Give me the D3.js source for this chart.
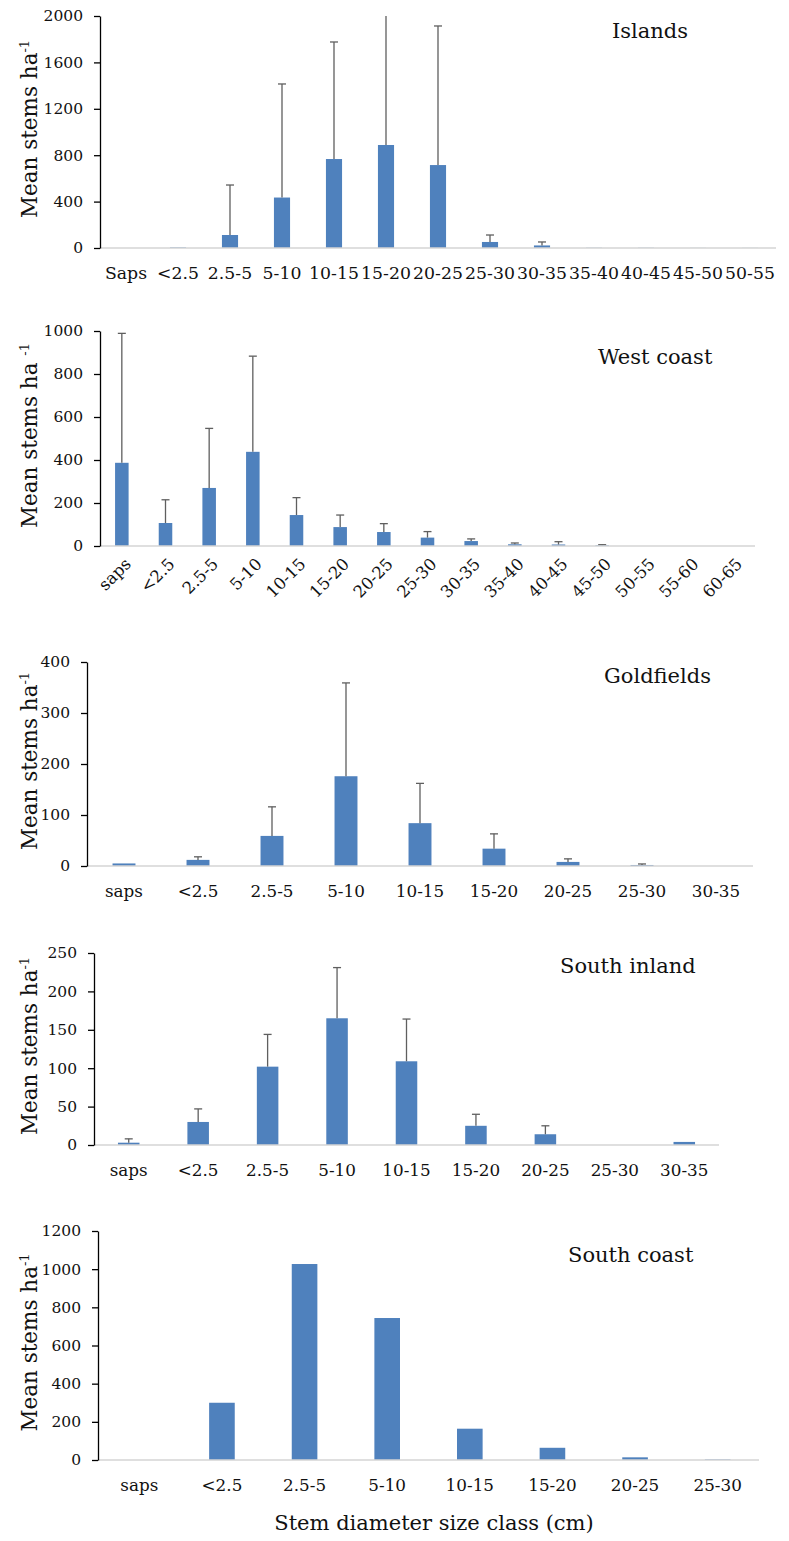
<!DOCTYPE html>
<html>
<head>
<meta charset="utf-8">
<script src="https://cdn.jsdelivr.net/npm/d3@7"></script>
<style>
  body { margin: 0; background: #fff; }
  svg { display: block; }
</style>
</head>
<body>
<script>
// data (mean stems per ha, upper end of the error bar)
const islandsCats = ["Saps", "<2.5", "2.5-5", "5-10", "10-15", "15-20", "20-25", "25-30", "30-35", "35-40", "40-45", "45-50", "50-55"]
const islandsMean = [0, 5, 112, 435, 767, 888, 715, 52, 22, 2, 2, 1, 1]
const islandsErr = [0, 0, 543, 1414, 1776, 2150, 1914, 112, 52, 0, 0, 0, 0]

const westCats = ["saps", "<2.5", "2.5-5", "5-10", "10-15", "15-20", "20-25", "25-30", "30-35", "35-40", "40-45", "45-50", "50-55", "55-60", "60-65"]
const westMean = [387, 107, 270, 438, 144, 88, 65, 39, 23, 8, 7, 3, 0, 0, 0]
const westErr = [989, 215, 547, 883, 225, 144, 104, 67, 33, 14, 20, 6, 0, 0, 0]

const goldCats = ["saps", "<2.5", "2.5-5", "5-10", "10-15", "15-20", "20-25", "25-30", "30-35"]
const goldMean = [5, 12, 59, 176, 84, 34, 8, 2, 0]
const goldErr = [0, 18, 116, 359, 162, 63, 14, 4, 0]

const inlandCats = ["saps", "<2.5", "2.5-5", "5-10", "10-15", "15-20", "20-25", "25-30", "30-35"]
const inlandMean = [3, 30, 102, 165, 109, 25, 14, 0, 4]
const inlandErr = [8, 47, 144, 231, 164, 40, 25, 0, 0]

const coastCats = ["saps", "<2.5", "2.5-5", "5-10", "10-15", "15-20", "20-25", "25-30"]
const coastMean = [0, 300, 1027, 744, 164, 64, 14, 3]
const coastErr = [0, 0, 0, 0, 0, 0, 0, 0]

const yTicksIslands = [0, 400, 800, 1200, 1600, 2000]
const yTicksWest = [0, 200, 400, 600, 800, 1000]
const yTicksGold = [0, 100, 200, 300, 400]
const yTicksInland = [0, 50, 100, 150, 200, 250]
const yTicksCoast = [0, 200, 400, 600, 800, 1000, 1200]

const font = "DejaVu Serif"
const barColor = "#4f81bd"

let svg = d3.select("body")
    .append("svg")
    .attr("width", 789)
    .attr("height", 1541)

// one entry per panel : data + where it sits on the page
let panels = [
    { title: "Islands", cats: islandsCats, mean: islandsMean, err: islandsErr, ticks: yTicksIslands,
      left: 100, right: 776, top: 16, zero: 248, titleX: 612, titleY: 38, xFont: 17.3, rotate: false, gap: "" },
    { title: "West coast", cats: westCats, mean: westMean, err: westErr, ticks: yTicksWest,
      left: 100, right: 755, top: 331, zero: 546, titleX: 598, titleY: 364, xFont: 16.5, rotate: true, gap: " " },
    { title: "Goldfields", cats: goldCats, mean: goldMean, err: goldErr, ticks: yTicksGold,
      left: 87, right: 753, top: 662, zero: 866, titleX: 604, titleY: 683, xFont: 16.8, rotate: false, gap: "" },
    { title: "South inland", cats: inlandCats, mean: inlandMean, err: inlandErr, ticks: yTicksInland,
      left: 94, right: 719, top: 953, zero: 1145, titleX: 560, titleY: 973, xFont: 16.8, rotate: false, gap: "" },
    { title: "South coast", cats: coastCats, mean: coastMean, err: coastErr, ticks: yTicksCoast,
      left: 98, right: 759, top: 1231, zero: 1460, titleX: 568, titleY: 1262, xFont: 16.8, rotate: false, gap: "" }
]

function drawPanel(p) {
    let yMax = d3.max(p.ticks)

    let x = d3.scaleBand()
        .domain(p.cats)
        .range([p.left, p.right])
        .paddingInner(0.69)
        .paddingOuter(0.345)

    let y = d3.scaleLinear()
        .domain([0, yMax])
        .range([p.zero, p.top])

    let g = svg.append("g").attr("class", "panel")

    // bars
    g.selectAll(".bar")
        .data(p.cats)
        .enter().append("rect")
        .attr("class", "bar")
        .attr("x", d => x(d))
        .attr("width", x.bandwidth())
        .attr("y", (d, i) => y(p.mean[i]))
        .attr("height", (d, i) => p.zero - y(p.mean[i]))
        .attr("fill", barColor)

    // error bars (upper only), clipped at the top of the axis
    let errs = p.cats.map((c, i) => ({ c: c, m: p.mean[i], e: p.err[i] }))
        .filter(d => d.e > d.m)

    g.selectAll(".err")
        .data(errs)
        .enter().append("line")
        .attr("x1", d => x(d.c) + x.bandwidth() / 2)
        .attr("x2", d => x(d.c) + x.bandwidth() / 2)
        .attr("y1", d => y(d.m))
        .attr("y2", d => y(Math.min(d.e, yMax)))
        .attr("stroke", "#5f5f5f")
        .attr("stroke-width", 1.3)

    g.selectAll(".cap")
        .data(errs.filter(d => d.e <= yMax))
        .enter().append("line")
        .attr("x1", d => x(d.c) + x.bandwidth() / 2 - 4)
        .attr("x2", d => x(d.c) + x.bandwidth() / 2 + 4)
        .attr("y1", d => y(d.e))
        .attr("y2", d => y(d.e))
        .attr("stroke", "#5f5f5f")
        .attr("stroke-width", 1.3)

    // x axis line (light grey)
    g.append("line")
        .attr("x1", p.left)
        .attr("x2", p.right)
        .attr("y1", p.zero)
        .attr("y2", p.zero)
        .attr("stroke", "#d4d4d4")
        .attr("stroke-width", 1.3)

    // y axis
    let yAxis = g.append("g")
        .attr("transform", "translate(" + p.left + ",0)")
        .call(d3.axisLeft(y).tickValues(p.ticks).tickSize(6).tickSizeOuter(0).tickPadding(11).tickFormat(d3.format("d")))

    yAxis.select(".domain").attr("stroke", "#000").attr("stroke-width", 1.3)
    yAxis.selectAll(".tick line").attr("stroke", "#000").attr("stroke-width", 1.3)
    yAxis.selectAll(".tick text")
        .style("font-family", font)
        .style("font-size", "15.5px")
        .attr("fill", "#111")

    // category labels
    let labels = g.selectAll(".cat")
        .data(p.cats)
        .enter().append("text")
        .text(d => d)
        .style("font-family", font)
        .style("font-size", p.xFont + "px")
        .attr("fill", "#111")

    if (p.rotate) {
        labels
            .attr("text-anchor", "end")
            .attr("transform", d => "translate(" + (x(d) + x.bandwidth() / 2 + 6) + "," + (p.zero + 15) + ") rotate(-45)")
            .attr("dy", "0.35em")
    } else {
        labels
            .attr("text-anchor", "middle")
            .attr("x", d => x(d) + x.bandwidth() / 2)
            .attr("y", p.zero + 31)
    }

    // panel title
    g.append("text")
        .text(p.title)
        .attr("x", p.titleX)
        .attr("y", p.titleY)
        .style("font-family", font)
        .style("font-size", "21px")
        .attr("fill", "#111")

    // y label with superscript
    let cy = (p.top + p.zero) / 2 - 3
    let yl = g.append("text")
        .attr("transform", "translate(37," + cy + ") rotate(-90)")
        .attr("text-anchor", "middle")
        .style("font-family", font)
        .style("font-size", "21.5px")
        .attr("fill", "#111")
    yl.append("tspan").text("Mean stems ha" + p.gap)
    yl.append("tspan").text("-1").attr("dy", -8).style("font-size", "13px")
}

panels.forEach(drawPanel)

// common x title
svg.append("text")
    .text("Stem diameter size class (cm)")
    .attr("x", 434)
    .attr("y", 1530)
    .attr("text-anchor", "middle")
    .style("font-family", font)
    .style("font-size", "21px")
    .attr("fill", "#111")
</script>
</body>
</html>
